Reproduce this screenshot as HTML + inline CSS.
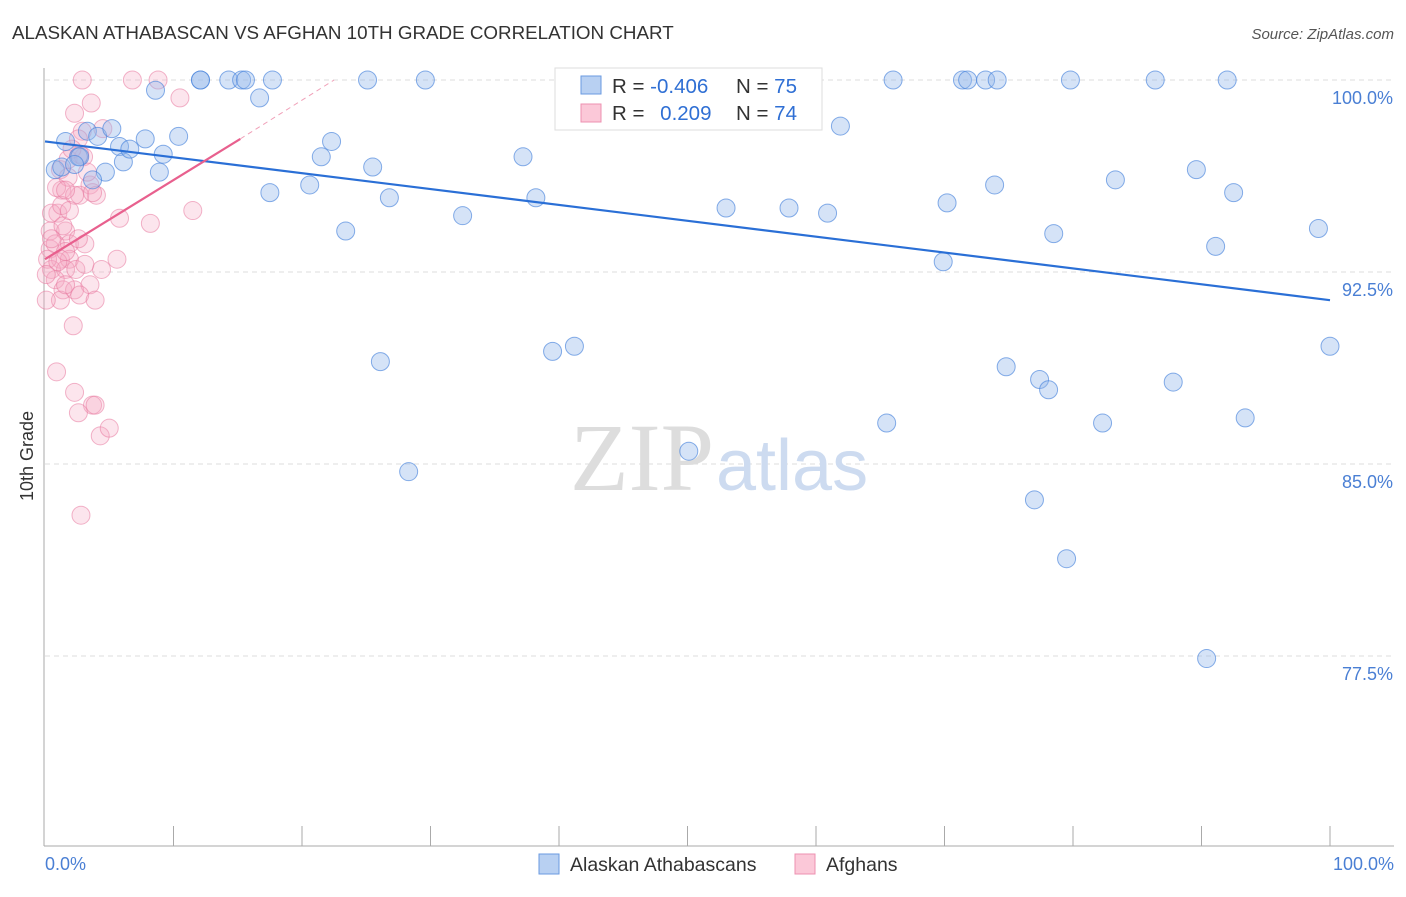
<!DOCTYPE html>
<html><head><meta charset="utf-8"><style>
body{margin:0;background:#fff;font-family:"Liberation Sans",sans-serif;}
</style></head><body>
<svg width="1406" height="892" font-family="Liberation Sans, sans-serif">
<text x="12" y="39" font-size="18.8" fill="#333">ALASKAN ATHABASCAN VS AFGHAN 10TH GRADE CORRELATION CHART</text>
<text x="1394" y="39" font-size="15" fill="#555" text-anchor="end" font-style="italic">Source: ZipAtlas.com</text>
<g id="grid"></g>
<text x="714" y="490" font-size="96" fill="#ddd" text-anchor="end" font-family="Liberation Serif, serif">ZIP</text>
<text x="716" y="490" font-size="72" fill="#cddbf0">atlas</text>
<line x1="44" y1="68" x2="44" y2="846" stroke="#aaa"/>
<line x1="44" y1="846" x2="1394" y2="846" stroke="#aaa"/>
<g id="xt"></g>
<text x="33" y="456" font-size="18" fill="#333" text-anchor="middle" transform="rotate(-90 33 456)">10th Grade</text>
<text x="45" y="870" font-size="18" fill="#4a7fd4">0.0%</text>
<text x="1394" y="870" font-size="18" fill="#4a7fd4" text-anchor="end">100.0%</text>
<g id="pts"></g>
<g id="trend"></g>
<g>
<rect x="555" y="68" width="267" height="62" fill="#fff" stroke="#ddd"/>
<rect x="581" y="76" width="20" height="18" fill="#b8d0f2" stroke="#6a9ae0"/>
<rect x="581" y="104" width="20" height="18" fill="#fbc8d8" stroke="#ee90b0"/>
<text x="612" y="93" font-size="20.5" fill="#333">R = <tspan fill="#2f6fd4">-0.406</tspan></text>
<text x="736" y="93" font-size="20.5" fill="#333">N = <tspan fill="#2f6fd4">75</tspan></text>
<text x="612" y="120" font-size="20.5" fill="#333">R = <tspan fill="#2f6fd4" dx="10">0.209</tspan></text>
<text x="736" y="120" font-size="20.5" fill="#333">N = <tspan fill="#2f6fd4">74</tspan></text>
</g>
<g>
<rect x="539" y="854" width="20" height="20" fill="#b8d0f2" stroke="#6a9ae0"/>
<text x="570" y="871" font-size="19.5" fill="#333">Alaskan Athabascans</text>
<rect x="795" y="854" width="20" height="20" fill="#fbc8d8" stroke="#ee90b0"/>
<text x="826" y="871" font-size="19.5" fill="#333">Afghans</text>
</g>
</svg>
<script>
const yTicks=[100,92.5,85,77.5];
const yTickLabels=["100.0%","92.5%","85.0%","77.5%"];
const blueX=[8.6,12.1,12.1,14.3,15.3,15.6,17.7,25.1,29.6,66.0,71.4,71.8,73.2,74.1,79.8,86.4,92.0,16.7,0.8,1.6,1.3,3.3,4.1,5.2,2.6,4.7,5.8,6.1,6.6,7.8,8.9,9.2,10.4,17.5,20.6,21.5,22.3,23.4,25.5,26.8,32.5,37.2,38.2,53.0,57.9,60.9,61.9,69.9,70.2,73.9,78.5,83.3,89.6,91.1,92.5,99.1,26.1,28.3,39.5,41.2,50.1,65.5,74.8,77.4,78.1,77.0,79.5,82.3,87.8,93.4,100.0,90.4,2.7,3.7,2.3];
const blueY=[99.6,100,100,100,100,100,100,100,100,100,100,100,100,100,100,100,100,99.3,96.5,97.6,96.6,98.0,97.8,98.1,97.0,96.4,97.4,96.8,97.3,97.7,96.4,97.1,97.8,95.6,95.9,97.0,97.6,94.1,96.6,95.4,94.7,97.0,95.4,95.0,95.0,94.8,98.2,92.9,95.2,95.9,94.0,96.1,96.5,93.5,95.6,94.2,89.0,84.7,89.4,89.6,85.5,86.6,88.8,88.3,87.9,83.6,81.3,86.6,88.2,86.8,89.6,77.4,97.0,96.1,96.7];
const pinkX=[2.9,6.8,8.8,10.5,2.3,3.6,2.9,4.5,1.2,1.8,2.6,3.0,3.5,4.0,1.3,2.7,1.0,0.5,1.3,0.4,1.6,0.4,0.8,1.9,3.1,1.2,1.9,0.5,1.6,2.4,4.4,5.6,0.8,1.4,2.3,3.5,1.2,2.7,3.9,2.2,0.1,5.8,8.2,11.5,0.9,2.3,3.7,3.9,2.6,4.3,5.0,2.8,0.2,1.0,1.8,3.3,2.3,1.4,0.5,2.6,1.6,3.1,0.1,0.9,1.6,3.7,2.7,2.1,1.9,1.6];
const pinkY=[100,100,100,99.3,98.7,99.1,98.0,98.1,96.5,96.9,97.7,97.0,95.9,95.5,95.7,95.5,94.8,94.8,95.1,94.1,94.1,93.4,93.6,93.6,93.6,93.0,93.0,92.6,92.6,92.6,92.6,93.0,92.2,91.8,91.8,92.0,91.4,91.6,91.4,90.4,91.4,94.6,94.4,94.9,88.6,87.8,87.3,87.3,87.0,86.1,86.4,83.0,93.0,92.9,96.2,96.4,95.5,94.3,93.8,93.8,92.0,92.8,92.4,95.8,93.3,95.6,97.1,97.3,94.9,95.7];
const blueTrend=[97.6,91.4];
const pinkTrend=[93.0,97.7,100];
const pinkTrendX=[0,15.2,22.5];
const NS="http://www.w3.org/2000/svg";
const sx=v=>45+v*12.85, sy=v=>80+(100-v)*25.6;
function mk(t,a,p){const e=document.createElementNS(NS,t);for(const k in a)e.setAttribute(k,a[k]);p.appendChild(e);return e;}
const grid=document.getElementById('grid');
yTicks.forEach((t,i)=>{
 const l=mk('line',{x1:45,x2:1394,y1:sy(t),y2:sy(t),stroke:'#ddd','stroke-dasharray':'5,4'},grid);
 
 
 const tx=mk('text',{x:1393,y:sy(t)+24,'font-size':18,fill:'#4a7fd4','text-anchor':'end'},grid);
 tx.textContent=yTickLabels[i];
 
 
});
const xt=document.getElementById('xt');
for(let i=1;i<=10;i++){const l=mk('line',{x1:45+i*128.5,x2:45+i*128.5,y1:826,y2:846,stroke:'#aaa'},xt);
 
 }
const pts=document.getElementById('pts');
pinkX.forEach((x,i)=>{const c=mk('circle',{cx:sx(x),cy:sy(pinkY[i]),r:9,fill:'rgba(246,170,196,0.3)',stroke:'rgba(232,120,158,0.55)','stroke-width':1},pts);
 
 });
blueX.forEach((x,i)=>{const c=mk('circle',{cx:sx(x),cy:sy(blueY[i]),r:9,fill:'rgba(150,185,235,0.4)',stroke:'rgba(70,130,220,0.65)','stroke-width':1},pts);
 
 });
const tr=document.getElementById('trend');
const b=mk('line',{x1:sx(0),y1:sy(blueTrend[0]),x2:sx(100),y2:sy(blueTrend[1]),stroke:'#2a6fd6','stroke-width':2.2},tr);


const p=mk('line',{x1:sx(pinkTrendX[0]),y1:sy(pinkTrend[0]),x2:sx(pinkTrendX[1]),y2:sy(pinkTrend[1]),stroke:'#e8608e','stroke-width':2.2},tr);


const pd=mk('line',{x1:sx(pinkTrendX[1]),y1:sy(pinkTrend[1]),x2:sx(pinkTrendX[2]),y2:sy(pinkTrend[2]),stroke:'#f0a0b8','stroke-width':1,'stroke-dasharray':'5,4'},tr);


</script>
</body></html>
